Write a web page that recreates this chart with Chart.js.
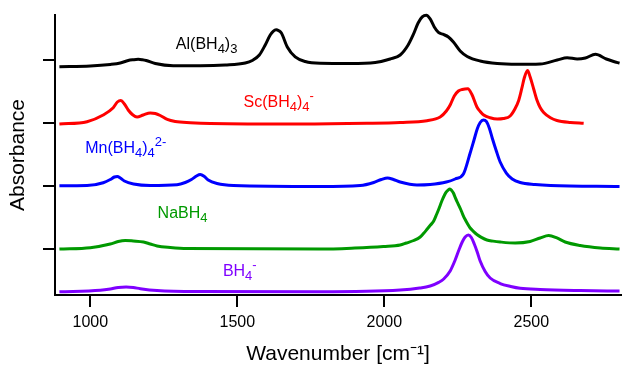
<!DOCTYPE html>
<html><head><meta charset="utf-8">
<script src="https://cdn.jsdelivr.net/npm/chart.js@4.4.1/dist/chart.umd.min.js"></script>
<style>html,body{margin:0;padding:0;background:#fff}#wrap{width:622px;height:365px}</style>
</head><body><div id="wrap"><canvas id="c" width="622" height="365"></canvas></div>
<script>
// ---- data (wavenumber in cm^-1, offset absorbance in arbitrary units) ----
const xTicks = [1000, 1500, 2000, 2500];
const xTickLabels = ['1000', '1500', '2000', '2500'];
const yTicks = [1, 2, 3, 4];

const seriesNames = ['Al(BH4)3', 'Sc(BH4)4-', 'Mn(BH4)4 2-', 'NaBH4', 'BH4-'];

const alW = [895,1000,1068,1102,1129,1146,1163,1177,1190,1221,1282,1374,1459,1527,1551,1575,1595,1612,1622,1632,1641,1650,1670,1697,1731,1782,1884,1969,2020,2054,2081,2098,2115,2129,2143,2156,2170,2184,2201,2218,2235,2258,2282,2326,2384,2452,2530,2588,2622,2656,2684,2718,2755,2780,2800];
const alA = [3.894,3.905,3.929,3.952,3.992,4.004,4.011,4.004,3.992,3.944,3.910,3.910,3.921,3.952,3.992,4.079,4.238,4.397,4.455,4.479,4.465,4.429,4.206,4.048,3.976,3.948,3.944,3.960,4.016,4.079,4.238,4.397,4.587,4.683,4.710,4.651,4.524,4.437,4.405,4.365,4.286,4.143,4.056,3.984,3.944,3.932,3.937,4.0,4.036,4.016,4.032,4.090,4.016,3.976,3.948];

const scW = [895,989,1044,1078,1092,1104,1116,1129,1143,1159,1180,1204,1221,1238,1262,1289,1340,1408,1714,1941,2054,2145,2190,2211,2224,2238,2252,2265,2284,2298,2315,2326,2338,2360,2384,2405,2428,2445,2457,2468,2476,2487,2496,2508,2519,2530,2542,2565,2587,2633,2678];
const scA = [2.984,3.021,3.127,3.243,3.333,3.357,3.302,3.206,3.135,3.095,3.127,3.159,3.151,3.119,3.056,3.024,3.005,2.992,2.984,2.995,3.008,3.037,3.095,3.190,3.286,3.429,3.508,3.532,3.543,3.452,3.254,3.183,3.127,3.083,3.063,3.071,3.111,3.230,3.357,3.556,3.714,3.833,3.730,3.540,3.365,3.246,3.167,3.083,3.040,3.008,2.995];

const mnW = [895,989,1044,1068,1082,1092,1102,1116,1147,1204,1295,1323,1344,1361,1374,1388,1401,1431,1487,1782,1918,1964,1990,2011,2031,2054,2111,2156,2211,2241,2269,2292,2306,2316,2326,2337,2347,2357,2367,2381,2394,2415,2435,2462,2513,2565,2800];
const mnA = [2.005,2.008,2.052,2.103,2.143,2.151,2.127,2.079,2.032,2.008,2.021,2.056,2.103,2.159,2.183,2.151,2.095,2.040,2.008,1.992,2.008,2.056,2.103,2.127,2.103,2.063,2.016,2.024,2.063,2.111,2.190,2.524,2.746,2.905,3.008,3.048,3.024,2.921,2.762,2.556,2.381,2.206,2.111,2.056,2.024,2.008,1.992];

const naW = [895,1000,1068,1095,1119,1146,1181,1204,1227,1272,1329,1782,1900,1997,2054,2075,2100,2122,2134,2146,2157,2168,2176,2184,2197,2204,2211,2217,2223,2229,2235,2241,2248,2255,2262,2268,2275,2283,2292,2303,2315,2330,2349,2370,2394,2445,2496,2530,2559,2587,2615,2666,2735,2800];
const naA = [1.0,1.021,1.079,1.119,1.135,1.127,1.111,1.079,1.048,1.024,1.008,1.0,1.016,1.040,1.063,1.095,1.135,1.190,1.249,1.317,1.380,1.444,1.530,1.619,1.778,1.850,1.905,1.935,1.952,1.930,1.889,1.820,1.746,1.675,1.603,1.535,1.468,1.400,1.333,1.280,1.230,1.185,1.143,1.125,1.111,1.095,1.119,1.175,1.214,1.175,1.111,1.056,1.016,1.0];

const bhW = [895,1034,1068,1095,1122,1146,1170,1227,1374,1782,2054,2120,2156,2185,2202,2224,2241,2255,2265,2275,2286,2296,2306,2316,2326,2343,2360,2394,2430,2462,2530,2666,2800];
const bhA = [0.322,0.344,0.365,0.389,0.397,0.389,0.370,0.341,0.325,0.322,0.349,0.380,0.413,0.470,0.524,0.651,0.825,1.0,1.111,1.190,1.222,1.183,1.079,0.952,0.810,0.643,0.540,0.452,0.405,0.376,0.357,0.341,0.333];

// species labels: markup (_ = subscript, ^ = superscript) and their anchor in data units
const labelMarkup = ['Al(BH_4)_3', 'Sc(BH_4)_4^-', 'Mn(BH_4)_4^{2-}', 'NaBH_4', 'BH_4^-'];
const labelW = [1291, 1521, 983, 1229, 1451];
const labelA = [4.175, 3.259, 2.519, 1.487, 0.571];

// ---- styles ----
const colors = ['#000000', '#ff0000', '#0000ff', '#009900', '#7f00ff'];
const FONT = "'Liberation Sans', Arial, Helvetica, sans-serif";

const seriesW = [alW, scW, mnW, naW, bhW];
const seriesA = [alA, scA, mnA, naA, bhA];

function parseMarkup(s) {
  const segs = [];
  let buf = '';
  for (let i = 0; i < s.length; i++) {
    const ch = s[i];
    if (ch === '_' || ch === '^') {
      if (buf) { segs.push({k: 'n', t: buf}); buf = ''; }
      let t;
      if (s[i + 1] === '{') { const j = s.indexOf('}', i + 2); t = s.slice(i + 2, j); i = j; }
      else { t = s[i + 1]; i++; }
      segs.push({k: ch === '_' ? 'sub' : 'sup', t});
    } else buf += ch;
  }
  if (buf) segs.push({k: 'n', t: buf});
  return segs;
}

const labelPlugin = {
  id: 'speciesLabels',
  afterDatasetsDraw(chart) {
    const {ctx} = chart;
    const xs = chart.scales.x, ys = chart.scales.y;
    ctx.save();
    ctx.textAlign = 'left';
    ctx.textBaseline = 'alphabetic';
    labelMarkup.forEach((m, i) => {
      let px = xs.getPixelForValue(labelW[i]);
      const py = ys.getPixelForValue(labelA[i]);
      ctx.fillStyle = colors[i];
      parseMarkup(m).forEach(seg => {
        ctx.font = (seg.k === 'n' ? 16 : 13) + 'px ' + FONT;
        const dy = seg.k === 'sub' ? 4 : (seg.k === 'sup' ? -7 : 0);
        ctx.fillText(seg.t, px, py + dy);
        px += ctx.measureText(seg.t).width;
      });
    });
    ctx.restore();
  }
};

const datasets = seriesNames.map((name, i) => ({
  label: name,
  data: seriesW[i].map((w, k) => ({x: w, y: seriesA[i][k]})),
  borderColor: colors[i],
  borderWidth: 3,
  pointRadius: 0,
  fill: false,
  cubicInterpolationMode: 'monotone',
  clip: false
}));

new Chart(document.getElementById('c'), {
  type: 'line',
  data: {datasets},
  options: {
    responsive: false,
    animation: false,
    devicePixelRatio: 1,
    layout: {padding: {top: 15, right: 1, left: 0, bottom: 0}},
    plugins: {legend: {display: false}, tooltip: {enabled: false}},
    scales: {
      x: {
        type: 'linear', min: 880, max: 2805,
        afterFit(s) { s.height = 70; },
        afterBuildTicks(s) { s.ticks = xTicks.map(v => ({value: v})); },
        ticks: {font: {family: FONT, size: 16}, color: '#000', padding: 6, maxRotation: 0,
                callback: (v, i) => xTickLabels[i]},
        grid: {drawOnChartArea: false, drawTicks: true, tickLength: 12, color: '#000', lineWidth: 2},
        border: {display: true, color: '#000', width: 2},
        title: {display: true, text: 'Wavenumber [cm⁻¹]', color: '#000',
                font: {family: FONT, size: 21, lineHeight: 1}, padding: {top: 0, bottom: 0}}
      },
      y: {
        type: 'linear', min: 0.27, max: 4.714,
        afterFit(s) { s.width = 55; },
        afterBuildTicks(s) { s.ticks = yTicks.map(v => ({value: v})); },
        ticks: {display: false},
        grid: {drawOnChartArea: false, drawTicks: true, tickLength: 12, color: '#000', lineWidth: 2},
        border: {display: true, color: '#000', width: 2},
        title: {display: true, text: 'Absorbance', color: '#000',
                font: {family: FONT, size: 21, lineHeight: 1}, padding: {top: 8, bottom: 0}}
      }
    }
  },
  plugins: [labelPlugin]
});
</script></body></html>
